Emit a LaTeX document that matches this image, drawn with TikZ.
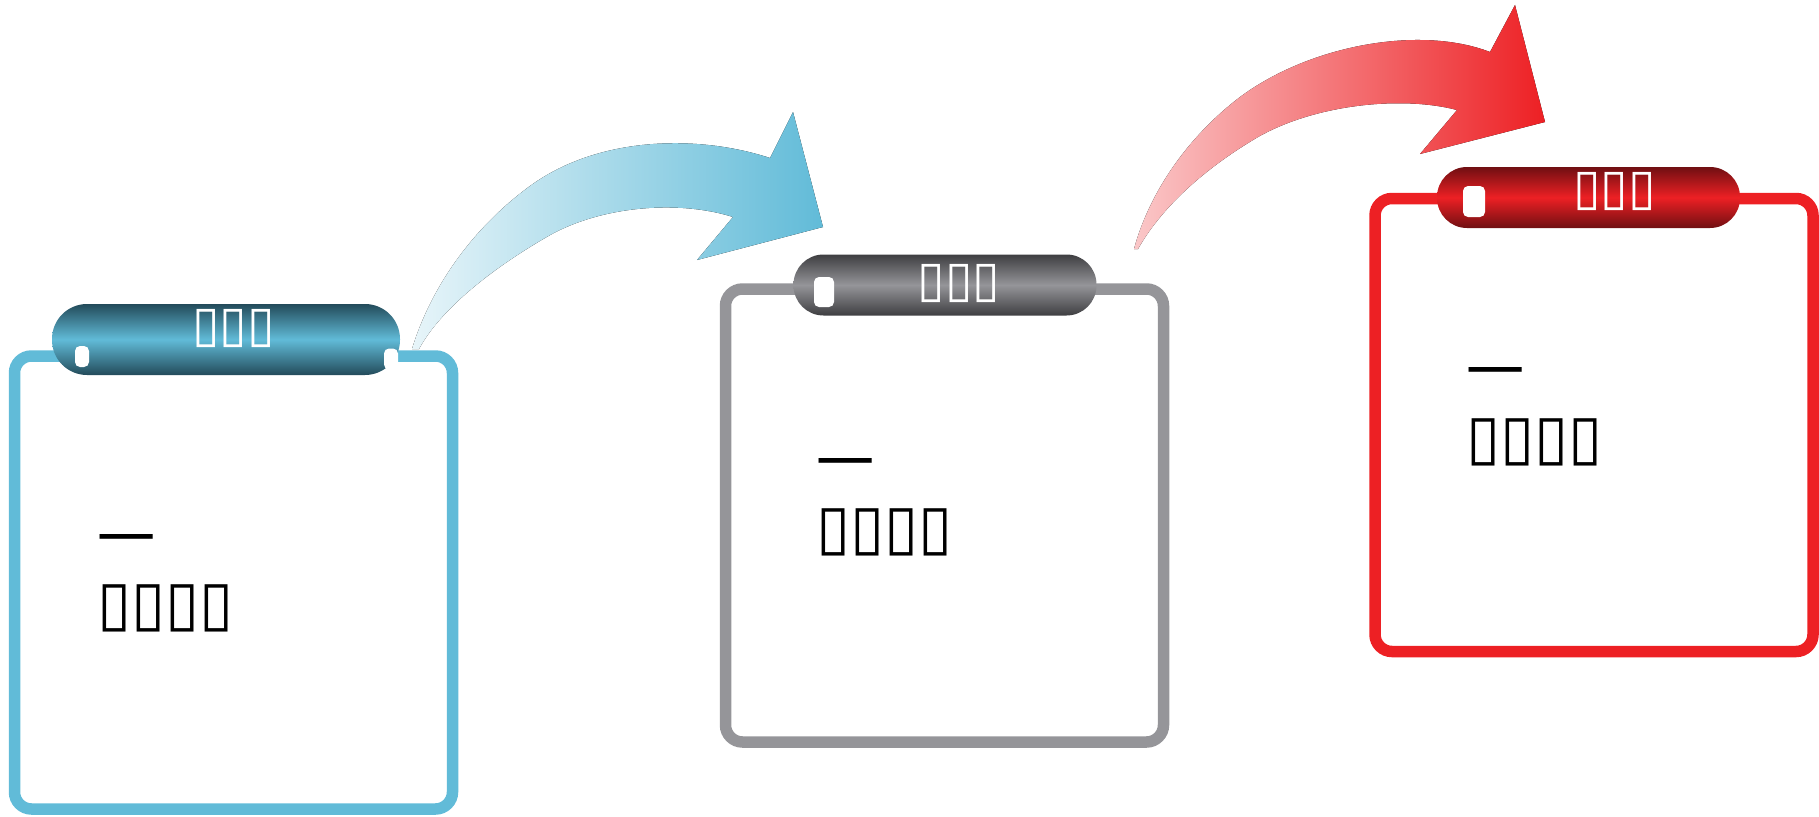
\documentclass[tikz,border=0pt]{standalone}
\usepackage{fontspec}
\newfontfamily\cjk{Noto Sans CJK SC}
\newfontfamily\symfont{DejaVu Sans}
\usepackage{tikz}
\usetikzlibrary{positioning}
\definecolor{stepblue}{RGB}{97,187,216}
\definecolor{stepgrey}{RGB}{149,149,153}
\definecolor{stepred}{RGB}{237,32,36}
\definecolor{darkblue}{RGB}{35,75,90}
\definecolor{darkgrey}{RGB}{62,62,65}
\definecolor{darkred}{RGB}{112,15,18}

\begin{document}
\begin{tikzpicture}[x=1pt, y=-1pt,
  stepframe/.style={draw, line width=11.5pt, rounded corners=17pt, minimum width=438pt, minimum height=453pt},
  tab/.style={rounded corners=30pt, minimum width=303pt, minimum height=61pt},
  tabtext/.style={text=white, inner sep=0pt, font=\symfont\fontsize{50}{52}\selectfont},
  hole/.style={fill=white, rounded corners=5pt, minimum width=20pt, minimum height=30pt, inner sep=0pt},
  lead/.style={anchor=west, inner sep=0pt, font=\cjk\fontsize{58}{60}\selectfont},
  body/.style={anchor=west, inner sep=0pt, font=\symfont\fontsize{62}{64}\selectfont}]
  \useasboundingbox (0,0) rectangle (1819,816);

  \fill[left color=stepblue!15, right color=stepblue] (412,349) .. controls (430,290) and (470,230) .. (530,186) .. controls (600,135) and (700,135) .. (770,158) -- (793,112) -- (823,227) -- (697,260) -- (733,217) .. controls (680,200) and (600,205) .. (545,238) .. controls (490,270) and (440,310) .. (419,349) -- cycle;
  \fill[left color=stepred!25, right color=stepred] (1134,249) .. controls (1150,190) and (1190,135) .. (1240,97) .. controls (1310,45) and (1420,25) .. (1490,52) -- (1515,5) -- (1545,122) -- (1420,154) -- (1457,110) .. controls (1400,95) and (1310,105) .. (1253,140) .. controls (1200,172) and (1160,210) .. (1138,249) -- cycle;

  \node[stepframe, draw=stepblue] (box1) at (233.5,582.5) {};
  \node[stepframe, draw=stepgrey] (box2) at (944.5,515.5) {};
  \node[stepframe, draw=stepred] (box3) at (1594,425) {};

  \node[tab, minimum width=348pt, minimum height=71pt, rounded corners=35pt, top color=darkblue, bottom color=darkblue, middle color=stepblue] (tab1) at (226,339.5) {};
  \node[tab, top color=darkgrey, bottom color=darkgrey, middle color=stepgrey] (tab2) at (945,285) {};
  \node[tab, top color=darkred, bottom color=darkred, middle color=stepred] (tab3) at (1588.5,197.5) {};

  \node[hole, minimum width=14pt, minimum height=21pt] (hole1) at (82,356.5) {};
  \node[hole, minimum width=14pt, minimum height=21pt] (hole1b) at (391,359) {};
  \node[hole] (hole2) at (824,292) {};
  \node[hole, minimum width=22pt, minimum height=31pt] (hole3) at (1474,201.5) {};

  \node[tabtext] (title1) at (233.5,328.5) {▯▯▯};
  \node[tabtext] (title2) at (959,284) {▯▯▯};
  \node[tabtext] (title3) at (1614.5,192) {▯▯▯};

  \node[lead] (lead1) at (97,547) {一};
  \node[body] (text1) at (97,608.5) {▯▯▯▯};
  \node[lead] (lead2) at (816,471) {一};
  \node[body] (text2) at (816,532.5) {▯▯▯▯};
  \node[lead] (lead3) at (1466,380) {一};
  \node[body] (text3) at (1466,442.5) {▯▯▯▯};
\end{tikzpicture}
\end{document}
